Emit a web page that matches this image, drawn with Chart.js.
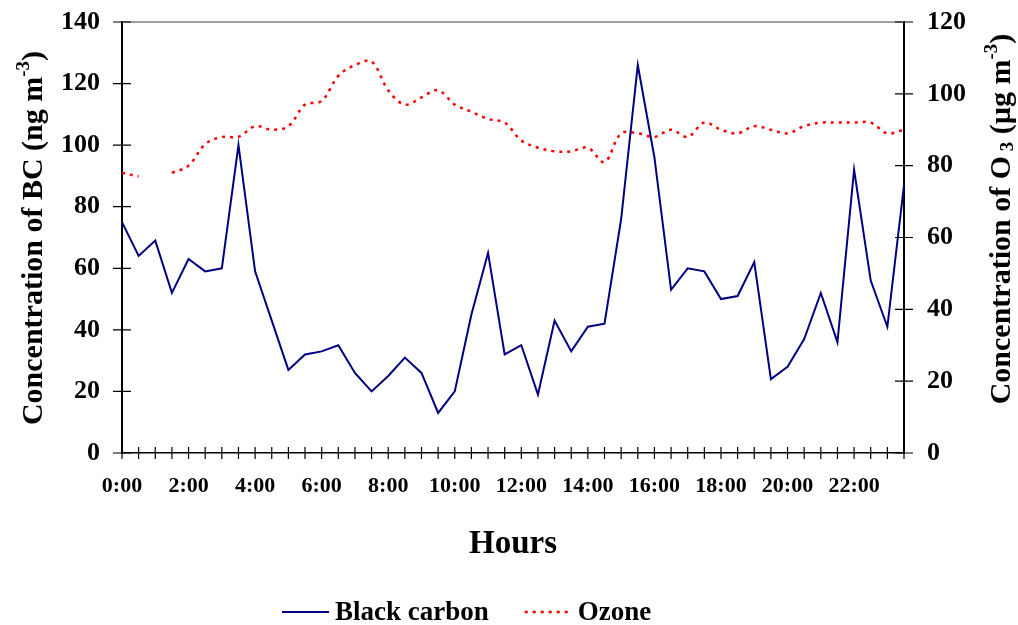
<!DOCTYPE html>
<html>
<head>
<meta charset="utf-8">
<script src="https://cdn.jsdelivr.net/npm/chart.js@4/dist/chart.umd.min.js"></script>
<style>
html, body { margin: 0; padding: 0; background: #fff; }
#contenedor { width: 1018px; height: 625px; }
</style>
</head>
<body>
<div id="contenedor"><canvas id="grafico"></canvas></div>
<script>
// ================== DATOS ==================

const horas = ['0:00', '0:30', '1:00', '1:30', '2:00', '2:30', '3:00', '3:30',
    '4:00', '4:30', '5:00', '5:30', '6:00', '6:30', '7:00', '7:30',
    '8:00', '8:30', '9:00', '9:30', '10:00', '10:30', '11:00', '11:30',
    '12:00', '12:30', '13:00', '13:30', '14:00', '14:30', '15:00', '15:30',
    '16:00', '16:30', '17:00', '17:30', '18:00', '18:30', '19:00', '19:30',
    '20:00', '20:30', '21:00', '21:30', '22:00', '22:30', '23:00', '23:30'];

// Black carbon (ng m-3), eje izquierdo
const negroCarbono = [75, 64, 69, 52, 63, 59, 60, 100, 59, 43, 27, 32, 33, 35, 26, 20,
    25, 31, 26, 13, 20, 45, 65, 32, 35, 19, 43, 33, 41, 42, 76, 126,
    96, 53, 60, 59, 50, 51, 62, 24, 28, 37, 52, 36, 92, 56, 41, 87];

// Ozono (ug m-3), eje derecho; falta el dato de 1:00
const ozono = [78, 77, null, 78, 80, 86, 88, 88, 91, 90, 91, 97, 98, 105, 108, 109,
    101, 97, 99, 101, 97, 95, 93, 92, 87, 85, 84, 84, 85, 81, 89, 89,
    88, 90, 88, 92, 90, 89, 91, 90, 89, 91, 92, 92, 92, 92, 89, 90];

const ticksBC = [0, 20, 40, 60, 80, 100, 120, 140];
const ticksO3 = [0, 20, 40, 60, 80, 100, 120];

// ================== ESTILO ==================

const FUENTE = "'Liberation Serif', 'Times New Roman', serif";
const AZUL = '#000080';
const ROJO = '#ff0000';
const PUNTEADO = [3, 5];

// Dibuja texto con partes de distinto tamaño (superindices / subindices), centrado en x
function textoCompuesto(ctx, partes, x, y) {
    let total = 0;
    partes.forEach(p => {
        ctx.font = 'bold ' + p.size + 'px ' + FUENTE;
        p.w = ctx.measureText(p.t).width;
        total += p.w;
    });
    let cx = x - total / 2;
    partes.forEach(p => {
        ctx.font = 'bold ' + p.size + 'px ' + FUENTE;
        ctx.fillText(p.t, cx, y + (p.dy || 0));
        cx += p.w;
    });
}

const pluginDecoracion = {
    id: 'decoracion',
    afterDraw(chart) {
        const ctx = chart.ctx;
        const { left, right, top, bottom } = chart.chartArea;
        const sx = chart.scales.x, sL = chart.scales.yBC, sR = chart.scales.yO3;
        ctx.save();

        // borde superior gris
        ctx.strokeStyle = '#808080';
        ctx.lineWidth = 1.5;
        ctx.beginPath();
        ctx.moveTo(left, top);
        ctx.lineTo(right, top);
        ctx.stroke();

        // marcas que cruzan los ejes
        ctx.strokeStyle = '#000';
        ctx.lineWidth = 1.2;
        ctx.beginPath();
        for (let i = 0; i < horas.length; i++) {
            const px = sx.getPixelForTick(i);
            ctx.moveTo(px, bottom - 6);
            ctx.lineTo(px, bottom + 6);
        }
        ticksBC.forEach(v => {
            const py = sL.getPixelForValue(v);
            ctx.moveTo(left - 9, py);
            ctx.lineTo(left + 9, py);
        });
        ticksO3.forEach(v => {
            const py = sR.getPixelForValue(v);
            ctx.moveTo(right - 9, py);
            ctx.lineTo(right + 9, py);
        });
        ctx.stroke();

        ctx.fillStyle = '#000';
        ctx.textAlign = 'left';
        ctx.textBaseline = 'alphabetic';

        // titulo eje izquierdo
        ctx.save();
        ctx.translate(42, 238);
        ctx.rotate(-Math.PI / 2);
        textoCompuesto(ctx, [
            { t: 'Concentration of BC (ng m', size: 30 },
            { t: '-3', size: 19, dy: -13 },
            { t: ')', size: 30 }
        ], 0, 0);
        ctx.restore();

        // titulo eje derecho
        ctx.save();
        ctx.translate(1010, 219);
        ctx.rotate(-Math.PI / 2);
        textoCompuesto(ctx, [
            { t: 'Concentration of O', size: 30 },
            { t: ' 3', size: 19, dy: 3 },
            { t: ' (\u00b5g m', size: 30 },
            { t: '-3', size: 19, dy: -13 },
            { t: ')', size: 30 }
        ], 0, 0);
        ctx.restore();

        // titulo eje x
        textoCompuesto(ctx, [{ t: 'Hours', size: 33 }], (left + right) / 2, 553);

        // leyenda
        const ds = chart.data.datasets;
        let lx = 282;
        const ly = 612;
        ctx.font = 'bold 27px ' + FUENTE;
        ds.forEach((d, k) => {
            ctx.strokeStyle = d.borderColor;
            ctx.lineWidth = d.borderWidth;
            ctx.setLineDash(d.borderDash || []);
            ctx.beginPath();
            ctx.moveTo(lx, ly);
            ctx.lineTo(lx + 47, ly);
            ctx.stroke();
            ctx.setLineDash([]);
            ctx.fillText(d.label, lx + 53, ly + 8);
            lx += 53 + ctx.measureText(d.label).width + 36;
        });

        ctx.restore();
    }
};

const fuenteTicks = { family: FUENTE, weight: 'bold' };

// fija el tamaño de cada eje y quita el relleno automatico de las etiquetas
function ajustarEje(ancho, alto) {
    return function (s) {
        if (ancho) s.width = ancho;
        if (alto) s.height = alto;
        s.paddingTop = 0;
        s.paddingBottom = 0;
        s.paddingLeft = 0;
        s.paddingRight = 0;
    };
}

new Chart(document.getElementById('grafico'), {
    type: 'line',
    data: {
        labels: horas,
        datasets: [{
            label: 'Black carbon',
            data: negroCarbono,
            yAxisID: 'yBC',
            borderColor: AZUL,
            backgroundColor: AZUL,
            borderWidth: 2,
            pointRadius: 0,
            tension: 0
        }, {
            label: 'Ozone',
            data: ozono,
            yAxisID: 'yO3',
            borderColor: ROJO,
            backgroundColor: ROJO,
            borderWidth: 2.5,
            borderDash: PUNTEADO,
            pointRadius: 0,
            tension: 0.35,
            spanGaps: false
        }]
    },
    options: {
        responsive: true,
        maintainAspectRatio: false,
        animation: false,
        layout: { padding: { top: 22, left: 0, right: 0, bottom: 0 } },
        plugins: {
            legend: { display: false },
            tooltip: { enabled: false }
        },
        scales: {
            x: {
                type: 'category',
                offset: false,
                grid: { display: false, drawTicks: false },
                border: { display: true, color: '#000', width: 1.5 },
                ticks: {
                    autoSkip: false,
                    maxRotation: 0,
                    minRotation: 0,
                    padding: 20,
                    color: '#000',
                    font: Object.assign({ size: 22 }, fuenteTicks),
                    callback: (v, i) => (i % 4 === 0 ? horas[i] : '')
                },
                afterFit: ajustarEje(0, 172)
            },
            yBC: {
                position: 'left',
                min: 0,
                max: 140,
                afterBuildTicks: s => { s.ticks = ticksBC.map(v => ({ value: v })); },
                grid: { display: false, drawTicks: false },
                border: { display: true, color: '#000', width: 2 },
                ticks: {
                    padding: 22,
                    color: '#000',
                    font: Object.assign({ size: 26 }, fuenteTicks)
                },
                afterFit: ajustarEje(122, 0)
            },
            yO3: {
                position: 'right',
                min: 0,
                max: 120,
                afterBuildTicks: s => { s.ticks = ticksO3.map(v => ({ value: v })); },
                grid: { display: false, drawTicks: false },
                border: { display: true, color: '#000', width: 2 },
                ticks: {
                    padding: 23,
                    color: '#000',
                    font: Object.assign({ size: 26 }, fuenteTicks)
                },
                afterFit: ajustarEje(114, 0)
            }
        }
    },
    plugins: [pluginDecoracion]
});
</script>
</body>
</html>
